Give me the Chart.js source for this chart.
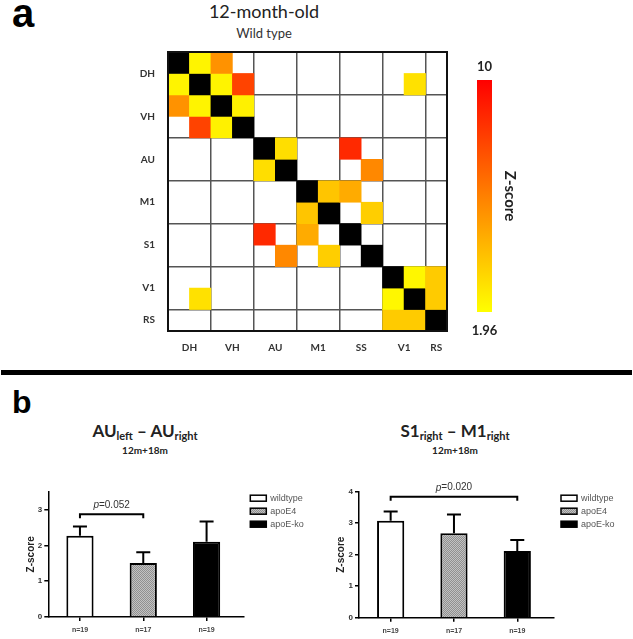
<!DOCTYPE html>
<html>
<head>
<meta charset="utf-8">
<script src="https://cdn.jsdelivr.net/npm/chart.js@4.4.1/dist/chart.umd.min.js"></script>
<style>
  html, body { margin: 0; padding: 0; background: #fff; }
  #fig { position: relative; width: 633px; height: 639px; overflow: hidden; }
  .t { position: absolute; white-space: nowrap; line-height: 1; color: #222; }
  .c { transform: translateX(-50%); }
  .letter { font-family: 'Liberation Sans', Arial, sans-serif; font-weight: bold; color: #000; }
  .cal { font-family: Lato, 'Open Sans', sans-serif; }
  .sub { font-size: 11px; position: relative; top: 3px; }
  .box { position: absolute; }
  #rule { position: absolute; left: 1px; top: 370px; width: 631px; height: 5px; background: #000; }
</style>
</head>
<body>
<div id="fig">
  <div class="t letter" style="left:12px;top:-7px;font-size:40px">a</div>
  <div class="t cal c" style="left:264px;top:2px;font-size:18px">12-month-old</div>
  <div class="t cal c" style="left:264px;top:27px;font-size:13px;color:#333">Wild type</div>
  <div id="rule"></div>
  <div class="t letter" style="left:12px;top:386px;font-size:32px">b</div>
  <div class="t cal c" style="left:145px;top:422px;font-size:17px;font-weight:bold">AU<span class="sub">left</span> – AU<span class="sub">right</span></div>
  <div class="t cal c" style="left:145px;top:445px;font-size:10px;font-weight:bold">12m+18m</div>
  <div class="t cal c" style="left:455px;top:422px;font-size:17px;font-weight:bold">S1<span class="sub">right</span> – M1<span class="sub">right</span></div>
  <div class="t cal c" style="left:455px;top:445px;font-size:10px;font-weight:bold">12m+18m</div>
  <div class="box" style="left:0;top:0"><canvas id="heat" width="633" height="368"></canvas></div>
  <div class="box" style="left:0;top:380px"><canvas id="barL" width="316" height="259"></canvas></div>
  <div class="box" style="left:317px;top:380px"><canvas id="barR" width="316" height="259"></canvas></div>
</div>
<script>
// ---- panel a: correlation matrix ----
const rowLabels = ['DH', 'VH', 'AU', 'M1', 'S1', 'V1', 'RS'];
const colLabels = ['DH', 'VH', 'AU', 'M1', 'SS', 'V1', 'RS'];
const groupBounds = [0, 2, 4, 6, 8, 10, 12, 13];
const groupCenters = [1, 3, 5, 7, 9, 11, 12.5];
const zMin = 1.96;
const zMax = 10;
const D = 'self';
const _ = null;
const zScores = [
  [D,   2.3, 5.4, _,   _,   _,   _,   _,   _,   _,   _,   _,   _  ],
  [2.3, D,   2.3, 7.9, _,   _,   _,   _,   _,   _,   _,   2.9, _  ],
  [5.4, 2.3, D,   2.4, _,   _,   _,   _,   _,   _,   _,   _,   _  ],
  [_,   7.9, 2.4, D,   _,   _,   _,   _,   _,   _,   _,   _,   _  ],
  [_,   _,   _,   _,   D,   3.0, _,   _,   8.7, _,   _,   _,   _  ],
  [_,   _,   _,   _,   3.0, D,   _,   _,   _,   5.7, _,   _,   _  ],
  [_,   _,   _,   _,   _,   _,   D,   3.8, 4.6, _,   _,   _,   _  ],
  [_,   _,   _,   _,   _,   _,   3.8, D,   _,   3.5, _,   _,   _  ],
  [_,   _,   _,   _,   8.7, _,   4.6, _,   D,   _,   _,   _,   _  ],
  [_,   _,   _,   _,   _,   5.7, _,   3.5, _,   D,   _,   _,   _  ],
  [_,   _,   _,   _,   _,   _,   _,   _,   _,   _,   D,   2.2, 3.6],
  [_,   2.9, _,   _,   _,   _,   _,   _,   _,   _,   2.2, D,   3.6],
  [_,   _,   _,   _,   _,   _,   _,   _,   _,   _,   3.6, 3.6, D  ]
];

// ---- panel b: bar charts ----
const groups = ['wildtype', 'apoE4', 'apoE-ko'];
const nLabels = ['n=19', 'n=17', 'n=19'];
const auMean = [2.27, 1.51, 2.10];
const auSem = [0.26, 0.30, 0.57];
const s1Mean = [3.08, 2.68, 2.12];
const s1Sem = [0.29, 0.60, 0.35];

const CAL = 'Lato, "Open Sans", sans-serif';
const ARIAL = '"Liberation Sans", Arial, sans-serif';

function zColor(z) {
  const t = Math.max(0, Math.min(1, (z - zMin) / (zMax - zMin)));
  return `rgb(255, ${Math.round(255 * (1 - t))}, 0)`;
}

const hideSize = (ax) => {
  if (ax.isHorizontal()) ax.height = 0;
  else ax.width = 0;
};
const setTicks = (vals) => (ax) => {
  ax.ticks = vals.map((v) => ({ value: v }));
};
const gridColor = (ctx) => (ctx.tick && (ctx.tick.value === 0 || ctx.tick.value === 13) ? '#111' : '#555');

const heatFrame = {
  id: 'heatFrame',
  afterDatasetsDraw(chart) {
    const { ctx, chartArea: a } = chart;
    ctx.save();
    ctx.strokeStyle = '#111';
    ctx.lineWidth = 2;
    ctx.strokeRect(a.left, a.top, a.width, a.height);
    ctx.restore();
  },
  afterDraw(chart) {
    // colour scale legend
    const { ctx, chartArea: a } = chart;
    const x = a.right + 30;
    const w = 15;
    const top = a.top + 28;
    const bottom = a.bottom - 19;
    const grad = ctx.createLinearGradient(0, bottom, 0, top);
    for (let i = 0; i <= 10; i++) {
      grad.addColorStop(i / 10, zColor(zMin + (zMax - zMin) * i / 10));
    }
    ctx.save();
    ctx.fillStyle = grad;
    ctx.fillRect(x, top, w, bottom - top);
    ctx.fillStyle = '#222';
    ctx.font = `bold 13px ${CAL}`;
    ctx.textAlign = 'center';
    ctx.textBaseline = 'middle';
    ctx.fillText(String(zMax), x + w / 2, top - 13);
    ctx.fillText(String(zMin), x + w / 2, bottom + 19);
    ctx.translate(x + w + 18, (top + bottom) / 2);
    ctx.rotate(Math.PI / 2);
    ctx.font = `bold 15px ${CAL}`;
    ctx.fillText('Z-score', 0, 0);
    ctx.restore();
  }
};

const labelTicks = (labels, padding) => ({
  autoSkip: false,
  maxRotation: 0,
  padding,
  color: '#333',
  font: { family: CAL, size: 10, weight: 'bold' },
  callback: (v, i) => labels[i]
});

new Chart(document.getElementById('heat'), {
  type: 'bar',
  data: {
    datasets: zScores.map((row, r) => ({
      label: rowLabels[Math.floor(r / 2)],
      data: row
        .map((z, c) => ({ x: c + 0.5, y: [r, r + 1], z }))
        .filter((d) => d.z !== null),
      backgroundColor: (ctx) => (!ctx.raw || ctx.raw.z === D ? '#000' : zColor(ctx.raw.z)),
      borderWidth: 0
    }))
  },
  options: {
    responsive: false,
    animation: false,
    events: [],
    datasets: { bar: { grouped: false, barPercentage: 1, categoryPercentage: 1 } },
    layout: { padding: { left: 0, right: 186, top: 52, bottom: 0 } },
    plugins: { legend: { display: false }, tooltip: { enabled: false } },
    scales: {
      x: {
        type: 'linear', min: 0, max: 13, offset: false,
        afterBuildTicks: setTicks(groupBounds), afterFit: hideSize,
        ticks: { display: false },
        grid: { offset: false, drawTicks: false, color: gridColor, lineWidth: 1.5 },
        border: { display: false }
      },
      xl: {
        type: 'linear', position: 'bottom', min: 0, max: 13, offset: false,
        afterBuildTicks: setTicks(groupCenters),
        afterFit: (ax) => { ax.height = 37; },
        grid: { display: false, offset: false, drawTicks: false },
        border: { display: false },
        ticks: labelTicks(colLabels, 11)
      },
      y: {
        type: 'linear', min: 0, max: 13, reverse: true,
        afterBuildTicks: setTicks(groupBounds), afterFit: hideSize,
        ticks: { display: false },
        grid: { drawTicks: false, color: gridColor, lineWidth: 1.5 },
        border: { display: false }
      },
      yl: {
        type: 'linear', position: 'left', min: 0, max: 13, reverse: true,
        afterBuildTicks: setTicks(groupCenters),
        afterFit: (ax) => { ax.width = 168; },
        grid: { display: false, drawTicks: false },
        border: { display: false },
        ticks: labelTicks(rowLabels, 13)
      }
    }
  },
  plugins: [heatFrame]
});

// ---- bar charts ----
function makeGrayPattern() {
  const c = document.createElement('canvas');
  c.width = 2;
  c.height = 2;
  const g = c.getContext('2d');
  g.fillStyle = '#c2c2c2';
  g.fillRect(0, 0, 2, 2);
  g.fillStyle = '#909090';
  g.fillRect(0, 0, 1, 1);
  g.fillRect(1, 1, 1, 1);
  return g.createPattern(c, 'repeat');
}
const fills = ['#ffffff', makeGrayPattern(), '#000000'];

const barExtras = {
  id: 'barExtras',
  afterDatasetsDraw(chart, _args, opts) {
    const { ctx, chartArea: a, scales: { x, y } } = chart;
    ctx.save();
    ctx.strokeStyle = '#000';
    ctx.lineWidth = 2;
    // upper error bars
    chart.data.datasets.forEach((ds, i) => {
      const bar = chart.getDatasetMeta(i).data[0];
      const mean = ds.data[0].y;
      const yTop = y.getPixelForValue(mean + opts.sem[i]);
      ctx.beginPath();
      ctx.moveTo(bar.x, bar.y);
      ctx.lineTo(bar.x, yTop);
      ctx.moveTo(bar.x - 7, yTop);
      ctx.lineTo(bar.x + 7, yTop);
      ctx.stroke();
    });
    // significance bracket
    const br = opts.bracket;
    const x1 = x.getPixelForValue(br.from);
    const x2 = x.getPixelForValue(br.to);
    const yb = y.getPixelForValue(br.y);
    ctx.beginPath();
    ctx.moveTo(x1, yb + 4);
    ctx.lineTo(x1, yb);
    ctx.lineTo(x2, yb);
    ctx.lineTo(x2, yb + 4);
    ctx.stroke();
    ctx.fillStyle = '#333';
    ctx.textBaseline = 'middle';
    ctx.textAlign = 'left';
    const rest = '=' + br.p;
    ctx.font = `italic 10px ${ARIAL}`;
    const wp = ctx.measureText('p').width;
    ctx.font = `10px ${ARIAL}`;
    const wr = ctx.measureText(rest).width;
    const tx = (x1 + x2) / 2 - (wp + wr) / 2;
    ctx.font = `italic 10px ${ARIAL}`;
    ctx.fillText('p', tx, yb - 9);
    ctx.font = `10px ${ARIAL}`;
    ctx.fillText(rest, tx + wp, yb - 9);
    // legend
    ctx.lineWidth = 1.5;
    ctx.font = `9px ${ARIAL}`;
    chart.data.datasets.forEach((ds, i) => {
      const lx = a.right + 7;
      const ly = a.top + 6.5 + i * 13;
      ctx.fillStyle = ds.backgroundColor;
      ctx.fillRect(lx, ly - 3, 16, 6);
      ctx.strokeRect(lx, ly - 3, 16, 6);
      ctx.fillStyle = '#555';
      ctx.fillText(ds.label, lx + 20, ly);
    });
    ctx.restore();
  }
};

function makeBarChart(id, means, sems, yMax, bracket, pad, yAxisWidth, xAxisHeight) {
  return new Chart(document.getElementById(id), {
    type: 'bar',
    data: {
      datasets: groups.map((g, i) => ({
        label: g,
        data: [{ x: i, y: means[i] }],
        backgroundColor: fills[i],
        borderColor: '#000',
        borderWidth: 2
      }))
    },
    options: {
      responsive: false,
      animation: false,
      events: [],
      datasets: { bar: { grouped: false, barPercentage: 0.43, categoryPercentage: 1 } },
      layout: { padding: pad },
      plugins: {
        legend: { display: false },
        tooltip: { enabled: false },
        barExtras: { sem: sems, bracket }
      },
      scales: {
        x: {
          type: 'linear', min: -0.5, max: 2.58, offset: false,
          afterBuildTicks: setTicks([0, 1, 2]),
          afterFit: (ax) => { ax.height = xAxisHeight; },
          grid: { offset: false, drawOnChartArea: false, tickLength: 4, color: '#000', lineWidth: 1.5 },
          border: { color: '#000', width: 1.5 },
          ticks: {
            autoSkip: false, maxRotation: 0, padding: 5, color: '#444',
            font: { family: ARIAL, size: 7, weight: 'bold' },
            callback: (v, i) => nLabels[i]
          }
        },
        y: {
          min: 0, max: yMax,
          afterFit: (ax) => { ax.width = yAxisWidth; },
          grid: { drawOnChartArea: false, tickLength: 4, color: '#000', lineWidth: 1.5 },
          border: { color: '#000', width: 1.5 },
          ticks: {
            stepSize: 1, includeBounds: false, padding: 2, color: '#333',
            font: { family: ARIAL, size: 8, weight: 'bold' }
          },
          title: {
            display: true, text: 'Z-score', color: '#222', padding: 0,
            font: { family: ARIAL, size: 10, weight: 'bold' }
          }
        }
      }
    },
    plugins: [barExtras]
  });
}

makeBarChart('barL', auMean, auSem, 3.5,
  { from: 0, to: 1, y: 2.87, p: '0.052' },
  { left: 25.7, right: 72.7, top: 111.7, bottom: 0 }, 22.6, 22);
makeBarChart('barR', s1Mean, s1Sem, 4,
  { from: 0, to: 2, y: 3.84, p: '0.020' },
  { left: 18.7, right: 79, top: 111.7, bottom: 0 }, 23.3, 21.3);
</script>
</body>
</html>
